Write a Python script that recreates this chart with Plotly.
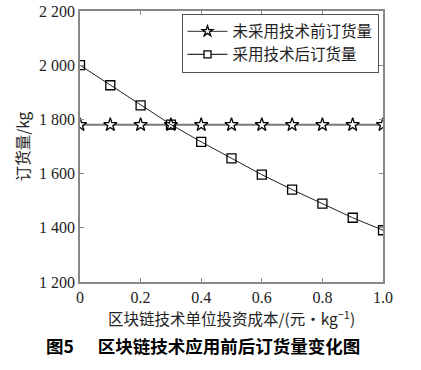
import plotly.graph_objects as go

x_cost = [0, 0.1, 0.2, 0.3, 0.4, 0.5, 0.6, 0.7, 0.8, 0.9, 1.0]
before_qty = [1780, 1780, 1780, 1780, 1780, 1780, 1780, 1780, 1780, 1780, 1780]
after_qty = [2000, 1926, 1852, 1781, 1717, 1656, 1596, 1541, 1489, 1437, 1391]

y_tickvals = [1200, 1400, 1600, 1800, 2000, 2200]
y_ticktext = ["1 200", "1 400", "1 600", "1 800", "2 000", "2 200"]
x_tickvals = [0, 0.2, 0.4, 0.6, 0.8, 1.0]
x_ticktext = ["0", "0.2", "0.4", "0.6", "0.8", "1.0"]
series_names = ["未采用技术前订货量", "采用技术后订货量"]

serif = "Liberation Serif, Noto Sans CJK SC"
cjk = "Noto Sans CJK SC"

star_line = dict(color="#7a7a7a", width=2)
sq_line = dict(color="#222222", width=1)

fig = go.Figure()
fig.add_trace(go.Scatter(
    x=x_cost, y=before_qty, mode="lines+markers", name=series_names[0], showlegend=False,
    line=star_line,
    marker=dict(symbol="star", size=10, color="white", line=dict(color="black", width=1.3)),
))
fig.add_trace(go.Scatter(
    x=x_cost, y=after_qty, mode="lines+markers", name=series_names[1], showlegend=False,
    line=sq_line,
    marker=dict(symbol="square", size=9, color="rgba(255,255,255,0)", line=dict(color="black", width=1.3)),
))
# legend entries (smaller symbols, as in the reference legend)
fig.add_trace(go.Scatter(
    x=[None], y=[None], mode="lines+markers", name=series_names[0],
    line=dict(color="#555555", width=1.2),
    marker=dict(symbol="star", size=8, color="white", line=dict(color="black", width=1.3)),
))
fig.add_trace(go.Scatter(
    x=[None], y=[None], mode="lines+markers", name=series_names[1],
    line=dict(color="#333333", width=1.2),
    marker=dict(symbol="square", size=7, color="white", line=dict(color="black", width=1.3)),
))

axis_common = dict(
    showline=True, linecolor="#888888", linewidth=1.5, mirror="ticks",
    ticks="inside", ticklen=4, tickcolor="#888888", showgrid=False, zeroline=False,
    automargin=False,
    tickfont=dict(family=serif, size=16, color="#222"),
)

fig.update_layout(
    width=421, height=370,
    margin=dict(l=80, r=38, t=11, b=88),
    paper_bgcolor="white", plot_bgcolor="white",
    showlegend=True,
    legend=dict(
        x=0.335, y=0.99, xanchor="left", yanchor="top",
        bordercolor="#555555", borderwidth=1, bgcolor="white",
        font=dict(family=cjk, size=15.5, color="#222"),
        tracegroupgap=0, itemwidth=40, entrywidth=190,
    ),
    xaxis=dict(
        range=[0, 1.0], tickvals=x_tickvals, ticktext=x_ticktext,
        title=dict(text="区块链技术单位投资成本/(元·kg<sup>−1</sup>)",
                   font=dict(family=cjk, size=15.5, color="#222"), standoff=2),
        **axis_common,
    ),
    yaxis=dict(
        range=[1200, 2200], tickvals=y_tickvals, ticktext=y_ticktext,
        title=dict(text="订货量/kg", font=dict(family=cjk, size=15.5, color="#222"), standoff=6),
        **axis_common,
    ),
    annotations=[dict(
        text="<b>图5      区块链技术应用前后订货量变化图</b>",
        xref="paper", yref="paper", x=0.405, y=-0.236, xanchor="center", yanchor="middle",
        showarrow=False, font=dict(family=cjk, size=17.5, color="black"),
    )],
)

fig.write_html("out.html", config={"displayModeBar": False},
               post_script="document.body.style.margin='0';window.dispatchEvent(new Event('resize'));")
